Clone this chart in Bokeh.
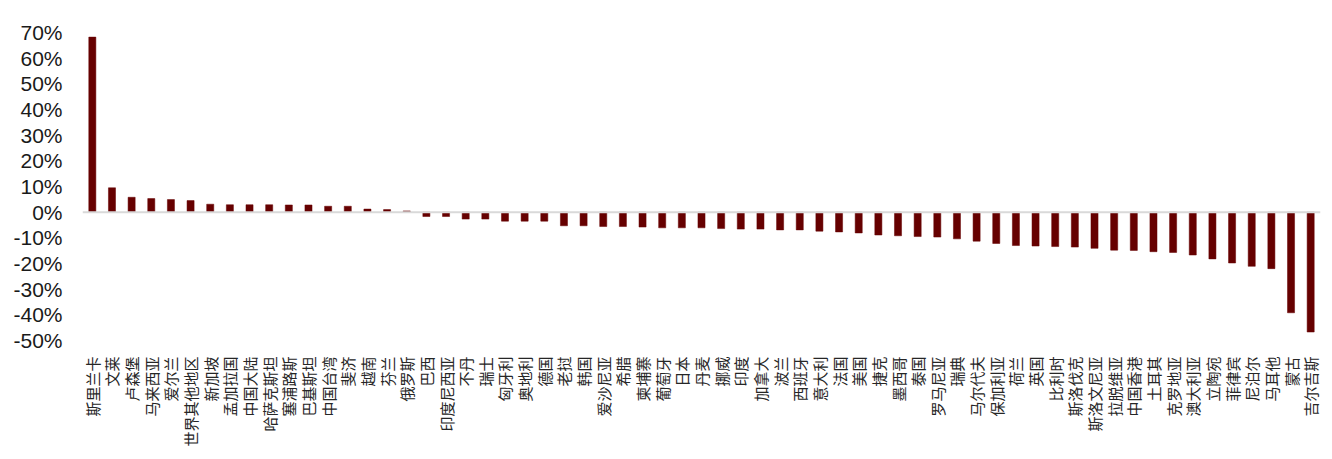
import math
from bokeh.plotting import figure
from bokeh.models import FactorRange, Range1d, FixedTicker, PrintfTickFormatter, Span, ColumnDataSource
from bokeh.embed import file_html
from bokeh.resources import INLINE

names = ["斯里兰卡", "文莱", "卢森堡", "马来西亚", "爱尔兰", "世界其他地区", "新加坡", "孟加拉国",
         "中国大陆", "哈萨克斯坦", "塞浦路斯", "巴基斯坦", "中国台湾", "斐济", "越南", "芬兰",
         "俄罗斯", "巴西", "印度尼西亚", "不丹", "瑞士", "匈牙利", "奥地利", "德国", "老挝", "韩国",
         "爱沙尼亚", "希腊", "柬埔寨", "葡萄牙", "日本", "丹麦", "挪威", "印度", "加拿大", "波兰",
         "西班牙", "意大利", "法国", "美国", "捷克", "墨西哥", "泰国", "罗马尼亚", "瑞典", "马尔代夫",
         "保加利亚", "荷兰", "英国", "比利时", "斯洛伐克", "斯洛文尼亚", "拉脱维亚", "中国香港",
         "土耳其", "克罗地亚", "澳大利亚", "立陶宛", "菲律宾", "尼泊尔", "马耳他", "蒙古", "吉尔吉斯"]
values = [68.2, 9.5, 5.8, 5.3, 4.9, 4.5, 3.1, 2.9, 2.9, 2.9, 2.8, 2.8, 2.3, 2.3, 1.2, 1.0,
          0.5, -1.7, -1.7, -2.7, -2.7, -3.5, -3.5, -3.5, -5.3, -5.3, -5.6, -5.6, -5.8, -6.1,
          -6.1, -6.1, -6.4, -6.6, -6.6, -6.9, -6.9, -7.4, -7.7, -8.1, -8.9, -9.2, -9.5, -9.7,
          -10.4, -11.3, -12.2, -13.0, -13.2, -13.4, -13.6, -14.1, -14.8, -14.9, -15.4, -15.7,
          -16.7, -18.2, -19.8, -21.1, -22.0, -39.2, -46.7]
y_ticks = [-50, -40, -30, -20, -10, 0, 10, 20, 30, 40, 50, 60, 70]

src = ColumnDataSource(dict(name=names, value=values))

p = figure(width=1332, height=459, x_range=FactorRange(factors=names, range_padding=0),
           y_range=Range1d(-50, 70), output_backend="svg", toolbar_location=None,
           min_border_left=82, min_border_right=12, min_border_top=32, min_border_bottom=119)
p.vbar(x="name", top="value", bottom=0, width=0.36, source=src,
       fill_color="#660000", line_color="#660000", line_width=0.5)
p.add_layout(Span(location=0, dimension="width", line_color="#d9d9d9", line_width=2), "center")

p.outline_line_color = None
p.xgrid.grid_line_color = None
p.ygrid.grid_line_color = None

p.yaxis.ticker = FixedTicker(ticks=y_ticks)
p.yaxis.formatter = PrintfTickFormatter(format="%d%%")
p.yaxis.axis_line_color = None
p.yaxis.major_tick_line_color = None
p.yaxis.minor_tick_line_color = None
p.yaxis.major_label_text_font = "Liberation Sans"
p.yaxis.major_label_text_font_size = "21px"
p.yaxis.major_label_text_color = "#1a1a1a"
p.yaxis.major_label_standoff = 14

p.xaxis.axis_line_color = None
p.xaxis.major_tick_line_color = None
p.xaxis.minor_tick_line_color = None
p.xaxis.major_label_orientation = math.pi / 2
p.xaxis.major_label_text_font = "Noto Sans CJK SC"
p.xaxis.major_label_text_font_size = "15px"
p.xaxis.major_label_text_color = "#262626"
p.xaxis.major_label_standoff = 10

open("out.html", "w").write(file_html(p, INLINE))
